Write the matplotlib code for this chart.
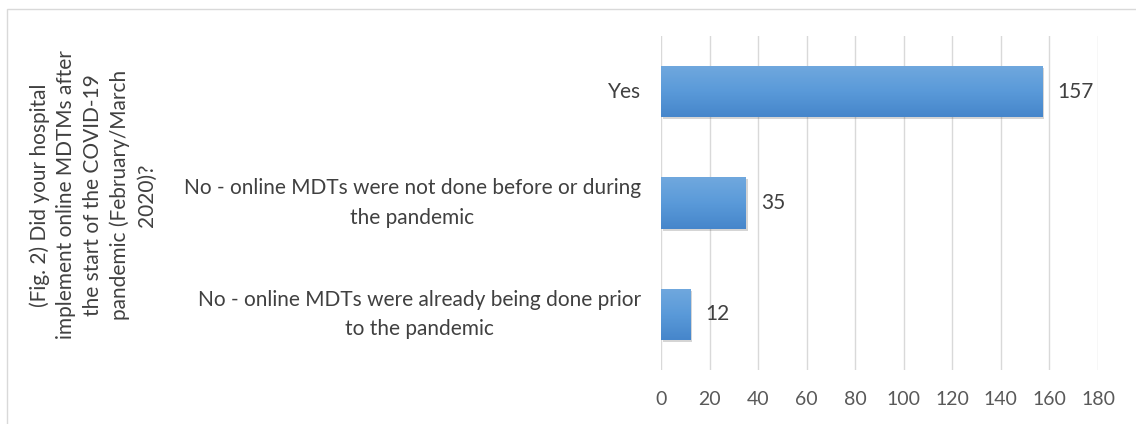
import matplotlib
matplotlib.use("Agg")
import matplotlib.pyplot as plt
import numpy as np
from matplotlib import patheffects as pe
from matplotlib.patches import Rectangle
from matplotlib.colors import LinearSegmentedColormap
from matplotlib.transforms import blended_transform_factory, offset_copy

categories = [
    "Yes",
    "No - online MDTs were not done before or during\nthe pandemic",
    "No - online MDTs were already being done prior\nto the pandemic",
]
values = [157, 35, 12]
x_ticks = [0, 20, 40, 60, 80, 100, 120, 140, 160, 180]
y_title = ("(Fig. 2) Did your hospital\nimplement online MDTMs after\n"
           "the start of the COVID-19\npandemic (February/March\n2020)?")

plt.rcParams['font.family'] = ['Lato', 'DejaVu Sans']
FS = 15

fig = plt.figure(figsize=(11.36, 4.24), dpi=100)
ax = fig.add_axes([661/1136, 1-370/424, (1098-661)/1136, (370-36)/424])

# figure border
fig.patches.append(Rectangle((7/1136, -0.05), 1.1, 1-9/424+0.05, transform=fig.transFigure,
                             fill=False, edgecolor='#d9d9d9', linewidth=1.0))

ypos = np.arange(len(categories))
bars = ax.barh(ypos, values, height=0.46, color='#5b9bd5', zorder=3)
cmap = LinearSegmentedColormap.from_list('g', ['#70a8de', '#5a9ad9', '#4686cb'])
grad = np.linspace(0, 1, 64).reshape(-1, 1)
for b in bars:
    b.set_path_effects([pe.SimplePatchShadow(offset=(1.5, -1.5), shadow_rgbFace='#444444', alpha=0.22), pe.Normal()])
    x0, y0, w, h = b.get_x(), b.get_y(), b.get_width(), b.get_height()
    im = ax.imshow(grad, extent=(x0, x0 + w, y0 + h, y0), aspect='auto', cmap=cmap,
                   zorder=4, interpolation='bicubic')
    im.set_clip_path(b)

lab_tr = offset_copy(ax.transData, fig=fig, x=15, y=0, units='dots')
for y, v in zip(ypos, values):
    ax.text(v, y, str(v), transform=lab_tr, va='center', ha='left', fontsize=FS,
            color='#404040', zorder=5)

ax.set_xlim(0, 180)
ax.set_ylim(len(categories) - 0.5, -0.5)
ax.set_xticks(x_ticks)
ax.set_yticks(ypos)
ax.set_yticklabels([])
ax.tick_params(axis='x', length=0, pad=15, labelsize=FS - 1, labelcolor='#595959')
ax.tick_params(axis='y', length=0)

# category labels: right-aligned block, centered lines
tr = offset_copy(blended_transform_factory(ax.transAxes, ax.transData), fig=fig, x=-20, y=0, units='dots')
for y, c in zip(ypos, categories):
    ax.text(0, y, c, transform=tr, ha='right', va='center', multialignment='center',
            fontsize=FS, color='#404040', linespacing=1.6)

ax.grid(axis='x', color='#d9d9d9', linewidth=1.0, zorder=0)
for s in ax.spines.values():
    s.set_visible(False)

fig.text(93/1136, 1-195/424, y_title, rotation=90, ha='center', va='center',
         fontsize=FS, color='#404040', linespacing=1.4, multialignment='center')

fig.savefig('out.png', dpi=100)
